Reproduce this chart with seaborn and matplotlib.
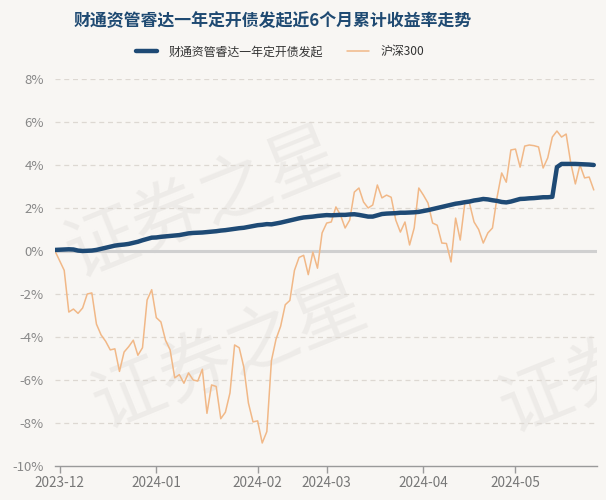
import pandas as pd
import numpy as np
import matplotlib
matplotlib.use("Agg")
import matplotlib.pyplot as plt
import seaborn as sns

title = "财通资管睿达一年定开债发起近6个月累计收益率走势"
fund_name = "财通资管睿达一年定开债发起"
index_name = "沪深300"

holidays = ["2024-01-01", "2024-02-09", "2024-02-12", "2024-02-13", "2024-02-14",
            "2024-02-15", "2024-02-16", "2024-04-04", "2024-04-05",
            "2024-05-01", "2024-05-02", "2024-05-03"]
dates = [d for d in pd.bdate_range("2023-11-30", "2024-05-29")
         if d.strftime("%Y-%m-%d") not in holidays]

fund = [0.05, 0.06, 0.07, 0.08, 0.07, 0.02, 0.00, 0.01, 0.02, 0.05,
        0.10, 0.15, 0.20, 0.25, 0.28, 0.30, 0.33, 0.38, 0.43, 0.50,
        0.56, 0.62, 0.63, 0.66, 0.68, 0.70, 0.72, 0.74, 0.78, 0.82,
        0.84, 0.85, 0.86, 0.88, 0.90, 0.92, 0.95, 0.97, 1.00, 1.03,
        1.06, 1.08, 1.12, 1.16, 1.20, 1.22, 1.25, 1.24, 1.28, 1.32,
        1.37, 1.42, 1.47, 1.52, 1.56, 1.58, 1.60, 1.63, 1.65, 1.67,
        1.66, 1.67, 1.68, 1.68, 1.70, 1.71, 1.68, 1.64, 1.60, 1.60,
        1.66, 1.72, 1.74, 1.75, 1.76, 1.78, 1.78, 1.79, 1.80, 1.82,
        1.86, 1.90, 1.95, 2.00, 2.05, 2.10, 2.15, 2.20, 2.23, 2.27,
        2.30, 2.35, 2.38, 2.42, 2.40, 2.36, 2.33, 2.28, 2.26, 2.30,
        2.36, 2.42, 2.43, 2.45, 2.46, 2.48, 2.50, 2.50, 2.52, 3.90,
        4.05, 4.05, 4.05, 4.05, 4.04, 4.03, 4.02, 4.00]

csi300 = [0.00, -0.45, -0.90, -2.84, -2.70, -2.90, -2.65, -2.00, -1.95, -3.40,
          -3.90, -4.20, -4.60, -4.55, -5.60, -4.70, -4.45, -4.15, -4.85, -4.50,
          -2.28, -1.80, -3.10, -3.30, -4.15, -4.60, -5.90, -5.75, -6.15, -5.67,
          -6.00, -6.05, -5.50, -7.55, -6.23, -6.30, -7.80, -7.50, -6.60, -4.37,
          -4.50, -5.40, -7.07, -7.95, -7.90, -8.93, -8.40, -5.10, -4.10, -3.50,
          -2.50, -2.30, -0.90, -0.30, -0.20, -1.10, -0.05, -0.80, 0.84, 1.30,
          1.35, 2.05, 1.67, 1.07, 1.44, 2.74, 2.93, 2.28, 2.00, 2.14,
          3.07, 2.47, 2.60, 2.50, 1.44, 0.88, 1.35, 0.28, 1.07, 2.93,
          2.60, 2.23, 1.30, 1.20, 0.37, 0.35, -0.51, 1.53, 0.51, 2.23,
          2.23, 1.35, 1.00, 0.37, 0.84, 1.07, 2.50, 3.63, 3.20, 4.70,
          4.74, 3.90, 4.88, 4.93, 4.90, 4.84, 3.86, 4.33, 5.30, 5.58,
          5.30, 5.44, 4.09, 3.12, 4.00, 3.40, 3.44, 2.84]

y_ticks = [-10, -8, -6, -4, -2, 0, 2, 4, 6, 8]

assert len(dates) == len(fund) == len(csi300)

df = pd.DataFrame({"idx": np.arange(len(dates)), "date": dates,
                   "fund": fund, "csi300": csi300})

bg = "#f8f6f3"
blue = "#1e4a75"
orange = "#f1b887"

sns.set_theme(style="white")
plt.rcParams["font.family"] = ["Noto Sans CJK SC", "DejaVu Sans"]

fig = plt.figure(figsize=(6.06, 5.0), dpi=100, facecolor=bg)
ax = fig.add_axes([55 / 606, 1 - 466 / 500, 542 / 606, (466 - 79) / 500])
ax.set_facecolor(bg)

# watermark
for (wx, wy) in [(0.0, 0.45), (0.05, 0.06), (0.80, 0.05)]:
    ax.text(wx, wy, "证券之星", transform=ax.transAxes, fontsize=52,
            color="#d9d6d2", alpha=0.33, rotation=22, ha="left", va="bottom",
            zorder=0, clip_on=True)

for t in y_ticks:
    if t == -10:
        continue
    if t == 0:
        ax.axhline(0, color="#d0d0d0", lw=2.2, zorder=1)
    else:
        ax.axhline(t, color="#ddd8d2", lw=0.9, ls=(0, (4, 3)), zorder=1)

sns.lineplot(data=df, x="idx", y="csi300", ax=ax, color=orange, lw=1.1,
             label=index_name, zorder=3)
sns.lineplot(data=df, x="idx", y="fund", ax=ax, color=blue, lw=3.2,
             label=fund_name, zorder=4)

ax.set_xlim(0, 117.7)
ax.set_ylim(-10, 8)
ax.set_yticks(y_ticks)
ax.set_yticklabels([f"{t}%" for t in y_ticks])

months = df["date"].dt.strftime("%Y-%m")
first_idx = [i for i in range(1, len(df)) if months[i] != months[i - 1]]
ax.set_xticks(first_idx)
ax.set_xticklabels([months[i] for i in first_idx])

ax.set_xlabel("")
ax.set_ylabel("")
for s in ["top", "right", "left"]:
    ax.spines[s].set_visible(False)
ax.spines["bottom"].set_color("#9a9a9a")
ax.spines["bottom"].set_linewidth(1.0)
ax.tick_params(axis="x", length=5, width=1, color="#9a9a9a", colors="#777777",
               labelsize=9.8, pad=2, bottom=True)
ax.tick_params(axis="y", length=0, colors="#888888", labelsize=9.5, pad=8)

ax.get_legend().remove()
handles, labels = ax.get_legend_handles_labels()
order = [labels.index(fund_name), labels.index(index_name)]
fig.legend([handles[i] for i in order], [labels[i] for i in order],
           loc="center", bbox_to_anchor=(280 / 606, 1 - 52 / 500), ncol=2,
           frameon=False, fontsize=8.6, handlelength=1.8, handletextpad=1.0,
           columnspacing=2.0, labelcolor="#333333")

fig.text(273 / 606, 1 - 21 / 500, title, ha="center", va="center", fontsize=12.2,
         fontweight="bold", color="#1f4a72")

fig.savefig("out.png", dpi=100, facecolor=bg)
